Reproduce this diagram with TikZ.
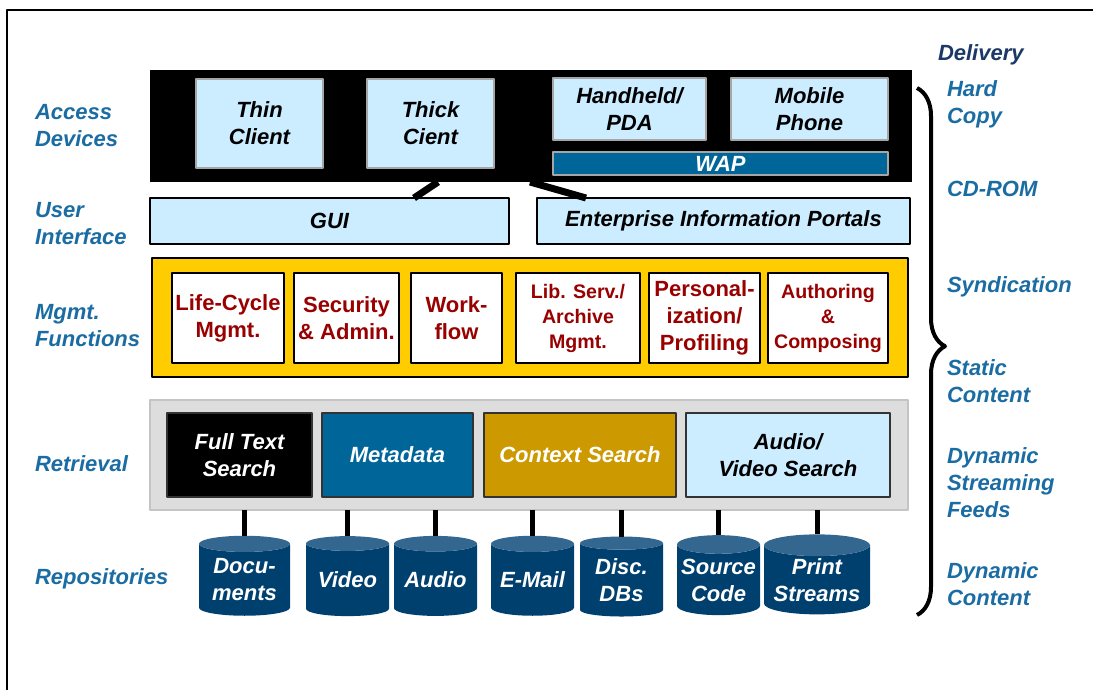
\documentclass[tikz,border=0pt]{standalone}
\usepackage{fontspec}
\setmainfont{Liberation Sans}
\usetikzlibrary{shapes.geometric,decorations.pathreplacing}
\definecolor{lbl}{HTML}{1A6CA3}
\definecolor{navylbl}{HTML}{1B3866}
\definecolor{sky}{HTML}{CCECFF}
\definecolor{devline}{HTML}{A6A6A6}
\definecolor{wapblue}{HTML}{006699}
\definecolor{gold}{HTML}{FFCC00}
\definecolor{ochre}{HTML}{CC9900}
\definecolor{fnred}{HTML}{990000}
\definecolor{panel}{HTML}{DDDDDD}
\definecolor{panelline}{HTML}{C4C4C4}
\definecolor{drum}{HTML}{00406F}
\definecolor{drumtop}{HTML}{33678F}
\begin{document}
\begin{tikzpicture}[x=0.5pt,y=-0.5pt,line join=round,
    font=\fontsize{11}{13.5}\selectfont\bfseries\itshape,
    every node/.style={inner sep=0pt,outer sep=0pt,align=center},
    lab/.style={anchor=west,align=left,text=lbl},
    dev/.style={draw=devline,fill=sky,line width=0.7pt},
    ui/.style={draw=black,fill=sky,line width=0.7pt,minimum height=23pt},
    fn/.style={draw=black,fill=white,line width=0.7pt,minimum height=45pt,text=fnred,
      font=\fontsize{11}{13.5}\selectfont\bfseries},
    fnsmall/.style={fn,font=\fontsize{9.8}{12.5}\selectfont\bfseries},
    rbox/.style={draw=black!80,line width=0.7pt,minimum height=42pt},
    repo/.style={cylinder,shape border rotate=90,aspect=0.25,cylinder uses custom fill,
      cylinder body fill=drum,cylinder end fill=drumtop,minimum height=40pt,
      minimum width=41.5pt,text=white},
    link/.style={line width=3.5pt},
    stem/.style={line width=2.5pt}]
\useasboundingbox (0,0) rectangle (1093,690);
\draw[line width=1pt] (7,690) -- (7,10) -- (1093,10);

% layer labels
\node[lab] (lacc) at (35,125.5) {Access\\Devices};
\node[lab] (lui) at (35,223.5) {User\\Interface};
\node[lab] (lfn) at (35,325.5) {Mgmt.\\Functions};
\node[lab] (lret) at (35,464) {Retrieval};
\node[lab] (lrep) at (35,579) {Repositories};

% access devices
\node[fill=black,minimum width=381pt,minimum height=56pt] (acc) at (531,126) {};
\node[dev,minimum width=63.5pt,minimum height=44.5pt] (thin) at (259.5,123.5) {Thin\\Client};
\node[dev,minimum width=63.5pt,minimum height=44.5pt] (thick) at (430.5,123.5) {Thick\\Cient};
\node[dev,minimum width=76.5pt,minimum height=31pt] (pda) at (629.5,109) {Handheld/\\PDA};
\node[dev,minimum width=78.5pt,minimum height=31pt] (phone) at (809.5,109) {Mobile\\Phone};
\node[dev,fill=wapblue,text=white,minimum width=167.5pt,minimum height=11.5pt] (wap) at (720.5,163.5) {WAP};

% user interface
\node[ui,minimum width=179.5pt] (gui) at (329.5,221) {GUI};
\node[ui,minimum width=186.5pt] (eip) at (723.5,221) {Enterprise Information Portals};
\draw[link] ([xshift=3.75pt]thick.south |- acc.south) -- ([xshift=-8.25pt]thick.south |- gui.north);
\draw[link] ([xshift=-3.5pt]eip.north west |- acc.south) -- ([xshift=24.5pt]eip.north west);

% management functions
\node[fill=gold,draw=black,line width=0.8pt,minimum width=378pt,minimum height=59.5pt] (mgmt) at (530,317.5) {};
\node[fn,minimum width=56pt] (life) at (228,318) {Life-Cycle\\Mgmt.};
\node[fn,minimum width=52.5pt] (sec) at (346.5,318) {Security\\\& Admin.};
\node[fn,minimum width=45.5pt] (flow) at (456.5,318) {Work-\\flow};
\node[fnsmall,minimum width=62pt] (lib) at (578,318) {Lib. Serv./\\Archive\\Mgmt.};
\node[fn,minimum width=55.5pt] (pers) at (704.5,318) {Personal-\\ization/\\Profiling};
\node[fnsmall,minimum width=60pt] (auth) at (828,318) {Authoring\\\&\\Composing};

% retrieval
\node[fill=panel,draw=panelline,line width=1pt,minimum width=379pt,minimum height=55pt] (ret) at (529,455) {};
\node[rbox,fill=black,text=white,minimum width=72.5pt] (fts) at (239.5,455) {Full Text\\Search};
\node[rbox,fill=wapblue,text=white,minimum width=75.5pt] (meta) at (397.5,455) {Metadata};
\node[rbox,fill=ochre,text=white,minimum width=96pt] (ctx) at (580,455) {Context Search};
\node[rbox,fill=sky,minimum width=102pt] (av) at (788,455) {Audio/\\Video Search};

% repositories
\node[repo,minimum width=45.5pt] (doc) at (244.5,580) {Docu-\\ments};
\node[repo] (video) at (347.5,580) {Video};
\node[repo] (audio) at (435.5,580) {Audio};
\node[repo] (mail) at (532.5,580) {E-Mail};
\node[repo] (disc) at (621.5,580) {Disc.\\DBs};
\node[repo] (src) at (718.5,580) {Source\\Code};
\node[repo,minimum width=53pt] (print) at (817,580) {Print\\Streams};
\foreach \r in {doc,video,audio,mail,disc,src,print}
  \draw[stem] (ret.south -| \r.north) -- (\r.north);

% delivery
\node[anchor=west,text=navylbl] (dlv) at (938,55) {Delivery};
\coordinate (btop) at (917,88);
\coordinate (bbot) at (917,615);
\draw[line width=2pt,decorate,decoration={brace,amplitude=14pt,aspect=0.49}] (btop) -- (bbot);
\node[lab] (hard) at (947,104.5) {Hard\\Copy};
\node[lab] (cd) at (947,189) {CD-ROM};
\node[lab] (synd) at (947,287) {Syndication};
\node[lab] (stat) at (947,381) {Static\\Content};
\node[lab] (feed) at (947,483) {Dynamic\\Streaming\\Feeds};
\node[lab] (dyn) at (947,584.5) {Dynamic\\Content};
\end{tikzpicture}
\end{document}
